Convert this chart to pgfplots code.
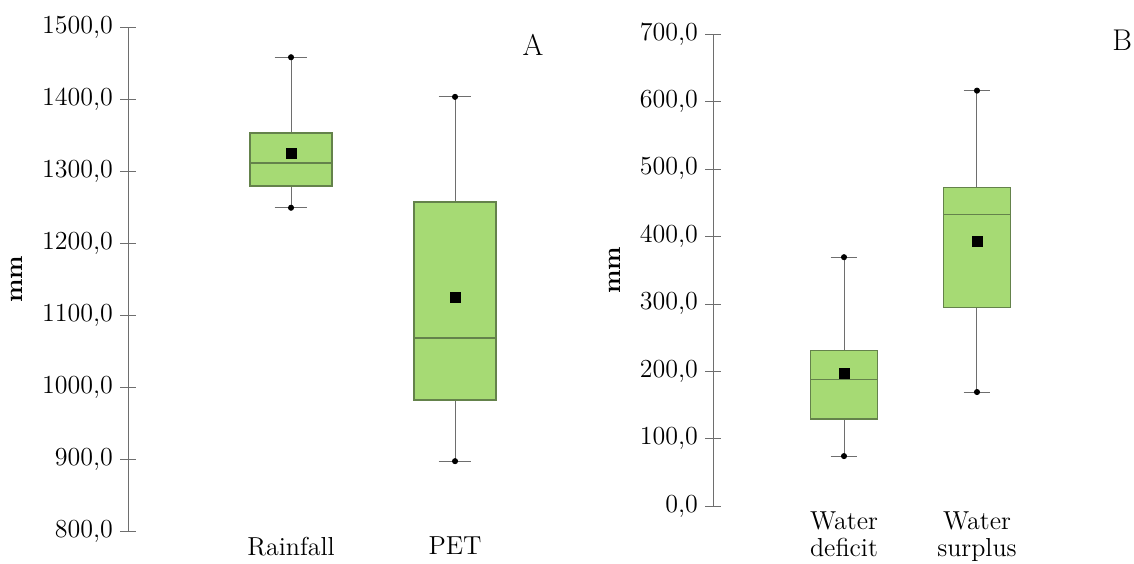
\documentclass[border=0pt]{standalone}
\usepackage{pgfplots}
\pgfplotsset{compat=1.18}
\definecolor{boxfill}{RGB}{166,218,116}
\definecolor{boxedge}{RGB}{100,130,75}
\definecolor{axgray}{RGB}{110,110,110}
\pgfplotsset{
  mybox/.style={
    scale only axis,
    axis lines=left,
    axis line style={-, draw=axgray},
    x axis line style={draw=none},
    xtick style={draw=none},
    ytick style={draw=axgray},
    tick align=center,
    major tick length=8pt,
    font=\fontsize{13}{13.5}\selectfont,
    yticklabel style={font=\fontsize{13}{14}\selectfont, /pgf/number format/fixed, /pgf/number format/fixed zerofill, /pgf/number format/precision=1, /pgf/number format/use comma, /pgf/number format/1000 sep={}, /pgf/number format/assume math mode=true},
    xticklabel style={align=center, font=\fontsize{13}{13.5}\selectfont, yshift=4.5pt},
    ylabel={\textbf{mm}},
    ylabel style={font=\fontsize{12.5}{14}\selectfont},
    ylabel shift=3pt,
    clip=false,
  },
  bxs/.style={fill=boxfill, draw=boxedge, line width=0.7pt},
  meds/.style={draw=boxedge, line width=0.7pt},
  whs/.style={draw=axgray, line width=0.5pt},
  whdot/.style={only marks, mark=*, mark size=1.3pt, black},
  meanmk/.style={only marks, mark=square*, mark size=2.5pt, black},
}
\begin{document}
\begin{tikzpicture}
\useasboundingbox (0,0) rectangle (567pt,281.5pt);
\begin{axis}[mybox,
  at={(64pt,16pt)}, anchor=south west,
  width=216pt, height=252pt,
  xmin=0.006, xmax=2.64, ymin=800, ymax=1500,
  ytick={800,900,...,1500},
  xtick={1,2}, xticklabels={Rainfall,PET},
]
% Rainfall: whiskers 1249-1458, box 1279-1353, median 1311
\addplot[whs] coordinates {(1,1353) (1,1458)};
\addplot[whs] coordinates {(0.9,1458) (1.1,1458)};
\addplot[whs] coordinates {(1,1279) (1,1249)};
\addplot[whs] coordinates {(0.9,1249) (1.1,1249)};
\addplot[bxs] coordinates {(0.75,1279) (1.25,1279) (1.25,1353) (0.75,1353)} -- cycle;
\addplot[meds] coordinates {(0.75,1311) (1.25,1311)};
% PET: whiskers 897-1403, box 982-1257, median 1068
\addplot[whs] coordinates {(2,1257) (2,1403)};
\addplot[whs] coordinates {(1.9,1403) (2.1,1403)};
\addplot[whs] coordinates {(2,982) (2,897)};
\addplot[whs] coordinates {(1.9,897) (2.1,897)};
\addplot[bxs] coordinates {(1.75,982) (2.25,982) (2.25,1257) (1.75,1257)} -- cycle;
\addplot[meds] coordinates {(1.75,1068) (2.25,1068)};
\addplot[whdot] coordinates {(1,1249) (1,1458) (2,897) (2,1403)};
\addplot[meanmk] coordinates {(1,1324) (2,1125)};
\node[font=\fontsize{15}{17}\selectfont] at (rel axis cs:0.9375,0.964) {A};
\end{axis}
\begin{axis}[mybox,
  at={(356.5pt,28.5pt)}, anchor=south west,
  width=193.5pt, height=236pt,
  xmin=0.015, xmax=2.925, ymin=0, ymax=700,
  ytick={0,100,...,700},
  xtick={1,2}, xticklabels={Water\\deficit,Water\\surplus},
]
% Water deficit: whiskers 74-369, box 129-231, median 188
\addplot[whs] coordinates {(1,231) (1,369)};
\addplot[whs] coordinates {(0.9,369) (1.1,369)};
\addplot[whs] coordinates {(1,129) (1,74)};
\addplot[whs] coordinates {(0.9,74) (1.1,74)};
\addplot[bxs] coordinates {(0.75,129) (1.25,129) (1.25,231) (0.75,231)} -- cycle;
\addplot[meds] coordinates {(0.75,188) (1.25,188)};
% Water surplus: whiskers 169-616, box 294-472, median 432
\addplot[whs] coordinates {(2,472) (2,616)};
\addplot[whs] coordinates {(1.9,616) (2.1,616)};
\addplot[whs] coordinates {(2,294) (2,169)};
\addplot[whs] coordinates {(1.9,169) (2.1,169)};
\addplot[bxs] coordinates {(1.75,294) (2.25,294) (2.25,472) (1.75,472)} -- cycle;
\addplot[meds] coordinates {(1.75,432) (2.25,432)};
\addplot[whdot] coordinates {(1,74) (1,369) (2,169) (2,616)};
\addplot[meanmk] coordinates {(1,196) (2,392)};
\node[font=\fontsize{15}{17}\selectfont] at (rel axis cs:1.057,0.987) {B};
\end{axis}
\end{tikzpicture}
\end{document}
